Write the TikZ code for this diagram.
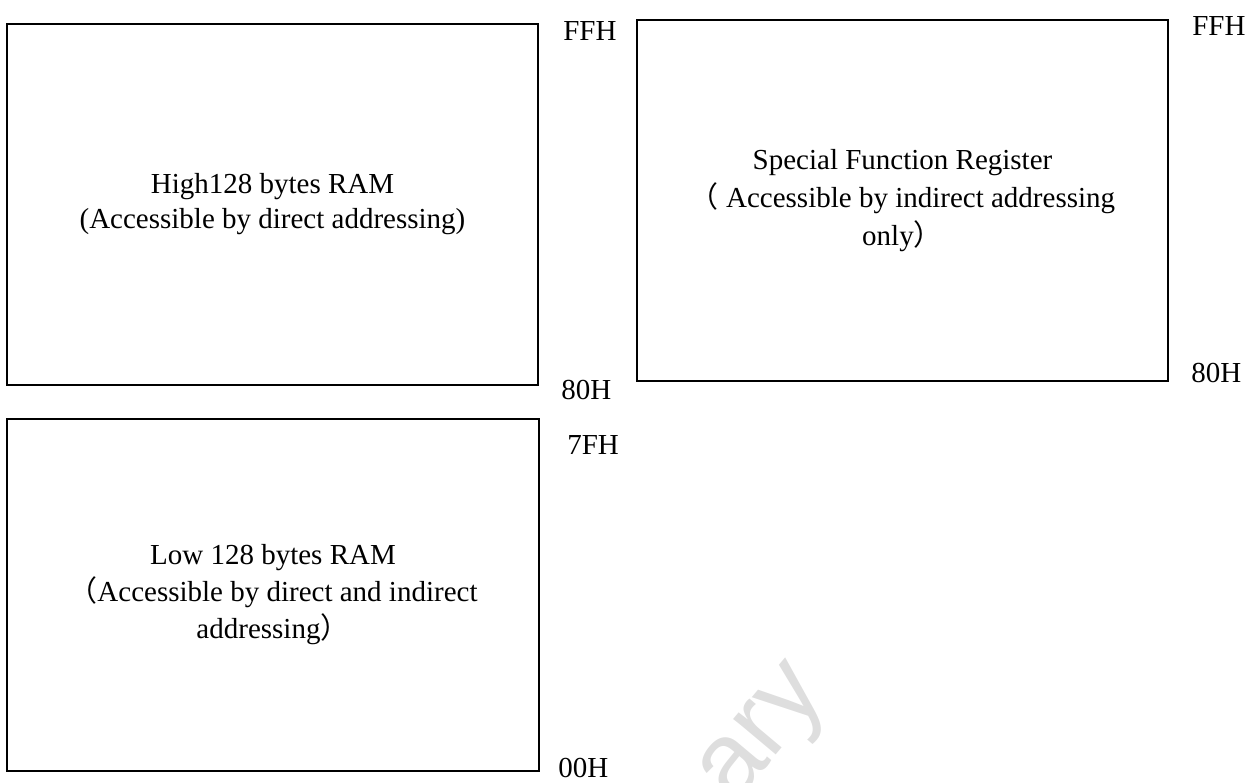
\documentclass[tikz,border=0pt]{standalone}
\usepackage{fontspec}
\setmainfont{Liberation Serif}
\newfontfamily\cjk{Noto Sans CJK SC}
\newfontfamily\wmfont{Liberation Sans}
\usetikzlibrary{positioning}
\begin{document}
\begin{tikzpicture}[x=1pt, y=-1pt,
    membox/.style={draw, line width=1.5pt, align=center, font=\fontsize{29}{35}\selectfont},
    addr/.style={anchor=base west, font=\fontsize{29}{35}\selectfont}]
    \useasboundingbox (0,0) rectangle (1255,783);
    % watermark
    \node[rotate=50, text=black!13, font=\wmfont\fontsize{105}{105}\selectfont] (mark) at (768,738) {ary};
    % the three RAM areas
    \node[membox, minimum width=531pt, minimum height=361pt] (high) at (272.5,204.5)
        {High128 bytes RAM\\(Accessible by direct addressing)};
    \node[membox, minimum width=531pt, minimum height=361pt, font=\fontsize{29}{38}\selectfont] (sfr) at (902.5,200.5)
        {Special Function Register\\{\cjk（} Accessible by indirect addressing\\only{\cjk）}};
    \node[membox, minimum width=532pt, minimum height=352pt, font=\fontsize{29}{37}\selectfont] (low) at (273,595)
        {Low 128 bytes RAM\\{\cjk（}Accessible by direct and indirect\\addressing{\cjk）}};
    % addresses
    \node[addr] (highTop) at ([shift={(21,17)}]high.north east) {FFH};
    \node[addr] (highBot) at ([shift={(19,14)}]high.south east) {80H};
    \node[addr] (sfrTop) at ([shift={(20,16)}]sfr.north east) {FFH};
    \node[addr] (sfrBot) at ([shift={(19,1)}]sfr.south east) {80H};
    \node[addr] (lowTop) at ([shift={(24,36)}]low.north east) {7FH};
    \node[addr] (lowBot) at ([shift={(15,6)}]low.south east) {00H};
\end{tikzpicture}
\end{document}
